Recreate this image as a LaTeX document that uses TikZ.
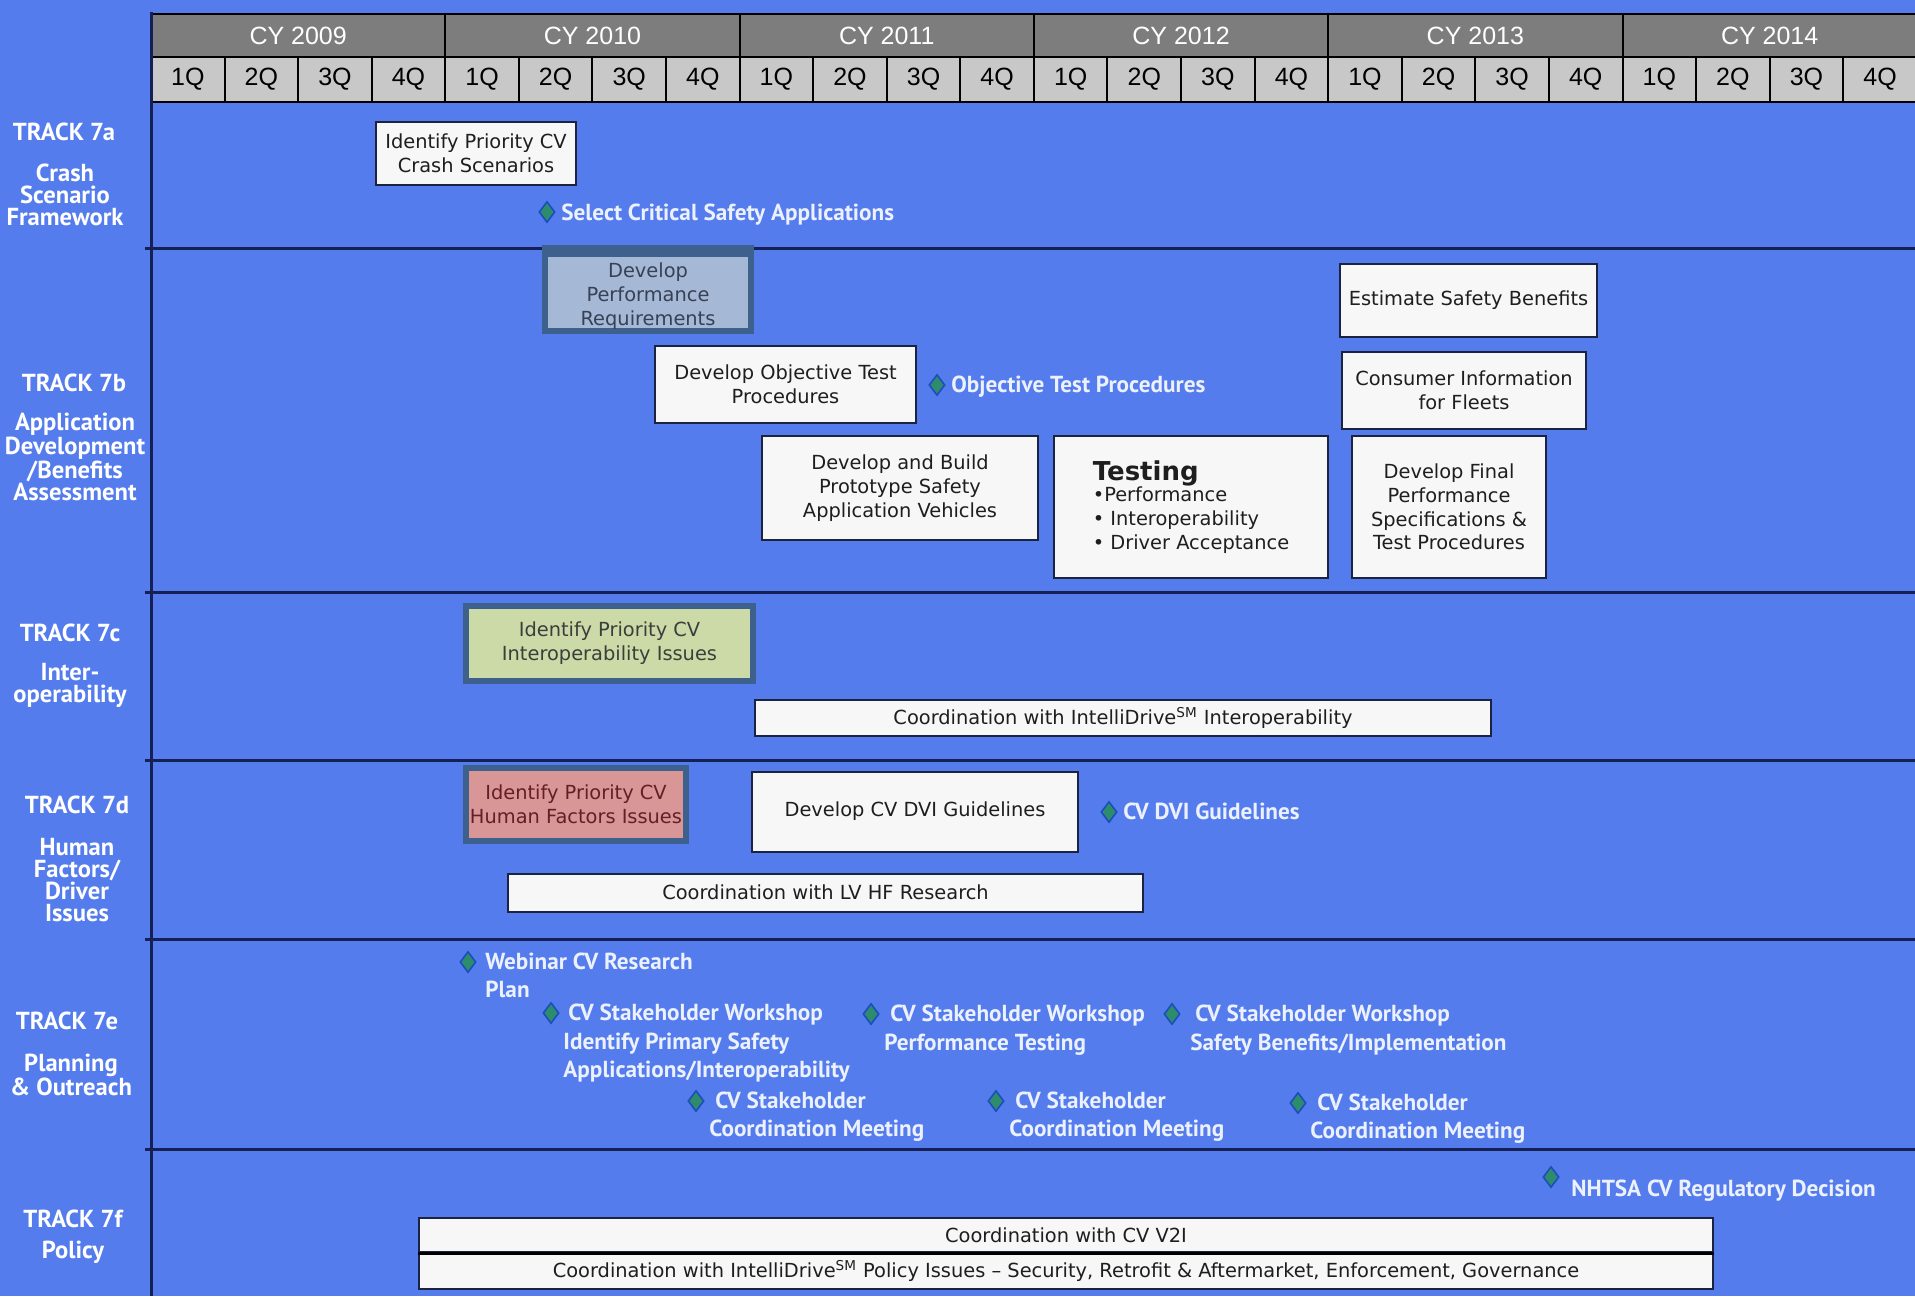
\documentclass[tikz,border=0pt]{standalone}
\usepackage{fontspec}
\setmainfont{DejaVu Sans}
\newfontfamily\lblfont{PT Sans}
\newfontfamily\hdrfont{Liberation Sans}
\usetikzlibrary{shapes.geometric}
\definecolor{bgblue}{RGB}{84,124,237}
\definecolor{navy}{RGB}{22,32,85}
\definecolor{boxline}{RGB}{28,35,64}
\definecolor{boxfill}{RGB}{247,247,247}
\definecolor{boxtext}{RGB}{30,30,30}
\definecolor{cygray}{RGB}{125,125,125}
\definecolor{qgray}{RGB}{200,200,200}
\definecolor{steel}{RGB}{62,96,140}
\definecolor{perffill}{RGB}{165,184,214}
\definecolor{greenfill}{RGB}{204,218,168}
\definecolor{pinkfill}{RGB}{217,150,150}
\definecolor{mstext}{RGB}{236,241,255}
\definecolor{diafill}{RGB}{44,140,108}
\definecolor{diaedge}{RGB}{30,78,190}
\begin{document}
\begin{tikzpicture}[x=0.5pt,y=-0.5pt,
  box/.style={draw=boxline, fill=boxfill, line width=1pt, inner sep=1pt, align=center,
    font=\fontsize{9.7}{11.9}\selectfont, text=boxtext},
  hibox/.style={box, draw=steel, line width=3pt},
  lbl/.style={text=white, font=\lblfont\bfseries\fontsize{12.3}{11}\selectfont, align=center, inner sep=0pt},
  ms/.style={text=mstext, font=\lblfont\bfseries\fontsize{11.6}{12}\selectfont, inner sep=0pt, anchor=base west},
  dia/.style={diamond, draw=diaedge, fill=diafill, line width=0.8pt, inner sep=0pt, minimum width=8pt, minimum height=10.5pt},
  cycell/.style={draw=black, line width=1pt, fill=cygray, text=white, inner sep=0pt,
    font=\hdrfont\fontsize{12.5}{14}\selectfont, minimum width=147.15pt, minimum height=21.5pt},
  qcell/.style={draw=black, line width=1pt, fill=qgray, text=black, inner sep=0pt,
    font=\hdrfont\fontsize{12.5}{14}\selectfont, minimum width=36.79pt, minimum height=22.5pt},
  trackline/.style={draw=navy, line width=1.5pt}
]
\path[use as bounding box, fill=bgblue] (0,0) rectangle (1915,1296);

% header
\begin{scope}
\clip (0,0) rectangle (1915,1296);
\foreach \yr [count=\i from 0] in {2009,2010,2011,2012,2013,2014} {
  \node[cycell] (cy\yr) at ({151+294.3*\i+147.15},35.5) {CY \yr};
  \foreach \j in {1,2,3,4} {
    \node[qcell] (q\yr\j) at ({151+294.3*\i+73.575*(\j-0.5)},79.5) {\j Q};
  }
}
\end{scope}

% grid lines
\draw[trackline] (151,12) -- (151,1296);
\foreach \yy in {248,592,760,939,1149} \draw[trackline] (145,\yy) -- (1915,\yy);

% track labels
\node[lbl] (tA) at (64,132) {TRACK 7a};
\node[lbl] (dA) at (65,195) {Crash\\Scenario\\Framework};
\node[lbl] (tB) at (74,383) {TRACK 7b};
\node[lbl] (dB) at (75,457) {Application\\Development\\/Benefits\\Assessment};
\node[lbl] (tC) at (70,633) {TRACK 7c};
\node[lbl] (dC) at (70,685) {Inter-\\operability};
\node[lbl] (tD) at (77,805) {TRACK 7d};
\node[lbl] (dD) at (77,880) {Human\\Factors/\\Driver\\Issues};
\node[lbl] (tE) at (67,1021) {TRACK 7e};
\node[lbl] (dE) at (71,1075) {Planning\\\& Outreach};
\node[lbl] (tF) at (73,1219) {TRACK 7f};
\node[lbl] (dF) at (73,1252) {Policy};

% track 7a
\node[box, minimum width=100pt, minimum height=31.5pt] (crash) at (476,153) {Identify Priority CV\\Crash Scenarios};
\node[dia] (m1) at (547,212) {};
\node[ms] (m1t) at (561,220) {Select Critical Safety Applications};

% track 7b
\node[hibox, fill=perffill, minimum width=103pt, minimum height=41pt] (perf) at (648,290) {};
\fill[steel] (542,245) rectangle (754,257);
\node[inner sep=0pt, align=center, font=\fontsize{9.7}{11.9}\selectfont, text={rgb,255:red,55;green,65;blue,85}] (perft) at (648,296) {Develop\\Performance\\Requirements};
\node[box, minimum width=130.5pt, minimum height=38.5pt] (objtest) at (785.5,384.5) {Develop Objective Test\\Procedures};
\node[dia] (m2) at (937,385) {};
\node[ms] (m2t) at (951,392) {Objective Test Procedures};
\node[box, minimum width=128.5pt, minimum height=36.5pt] (estimate) at (1468.5,300.5) {Estimate Safety Benefits};
\node[box, minimum width=122pt, minimum height=38.5pt] (consumer) at (1464,390.5) {Consumer Information\\for Fleets};
\node[box, minimum width=138pt, minimum height=52pt] (proto) at (900,488) {Develop and Build\\Prototype Safety\\Application Vehicles};
\node[box, align=left, minimum width=137pt, minimum height=71pt] (testing) at (1191,507)
  {{\fontsize{13}{14}\selectfont\bfseries Testing}\\[-1pt] •Performance\\ • Interoperability\\ • Driver Acceptance};
\node[box, minimum width=97pt, minimum height=71pt] (final) at (1449,507) {Develop Final\\Performance\\Specifications \&\\Test Procedures};

% track 7c
\node[hibox, fill=greenfill, text={rgb,255:red,60;green,62;blue,60}, minimum width=143.5pt, minimum height=37.5pt] (interop) at (609.5,643.5) {Identify Priority CV\\Interoperability Issues};
\node[box, minimum width=368pt, minimum height=18pt] (coordint) at (1123,718) {Coordination with IntelliDrive\textsuperscript{SM} Interoperability};

% track 7d
\node[hibox, fill=pinkfill, text={rgb,255:red,100;green,30;blue,40}, minimum width=110pt, minimum height=36.5pt] (hf) at (576,804.5) {Identify Priority CV\\Human Factors Issues};
\node[box, minimum width=163pt, minimum height=40pt] (dvi) at (915,811.5) {Develop CV DVI Guidelines};
\node[dia] (m3) at (1109,812) {};
\node[ms] (m3t) at (1123,819) {CV DVI Guidelines};
\node[box, minimum width=317.5pt, minimum height=19pt] (lvhf) at (825.5,892.5) {Coordination with LV HF Research};

% track 7e
\node[dia] (m4) at (468,962) {};
\node[ms] (m4a) at (485,969) {Webinar CV Research};
\node[ms] (m4b) at (485,997) {Plan};
\node[dia] (m5) at (551,1013) {};
\node[ms] (m5a) at (568,1020) {CV Stakeholder Workshop};
\node[ms] (m5b) at (563,1049) {Identify Primary Safety};
\node[ms] (m5c) at (563,1077) {Applications/Interoperability};
\node[dia] (m6) at (871,1014) {};
\node[ms] (m6a) at (890,1021) {CV Stakeholder Workshop};
\node[ms] (m6b) at (884,1050) {Performance Testing};
\node[dia] (m7) at (1172,1014) {};
\node[ms] (m7a) at (1195,1021) {CV Stakeholder Workshop};
\node[ms] (m7b) at (1190,1050) {Safety Benefits/Implementation};
\node[dia] (m8) at (696,1101) {};
\node[ms] (m8a) at (715,1108) {CV Stakeholder};
\node[ms] (m8b) at (709,1136) {Coordination Meeting};
\node[dia] (m9) at (996,1101) {};
\node[ms] (m9a) at (1015,1108) {CV Stakeholder};
\node[ms] (m9b) at (1009,1136) {Coordination Meeting};
\node[dia] (m10) at (1298,1103) {};
\node[ms] (m10a) at (1317,1110) {CV Stakeholder};
\node[ms] (m10b) at (1310,1138) {Coordination Meeting};

% track 7f
\node[dia] (m11) at (1551,1177) {};
\node[ms] (m11t) at (1571,1196) {NHTSA CV Regulatory Decision};
\node[box, minimum width=647pt, minimum height=17pt] (v2i) at (1066,1235) {Coordination with CV V2I};
\node[box, minimum width=647pt, minimum height=17.5pt] (policy) at (1066,1271) {Coordination with IntelliDrive\textsuperscript{SM} Policy Issues – Security, Retrofit \& Aftermarket, Enforcement, Governance};
\draw[black, line width=1.5pt] (v2i.south west) -- (v2i.south east);
\end{tikzpicture}
\end{document}
